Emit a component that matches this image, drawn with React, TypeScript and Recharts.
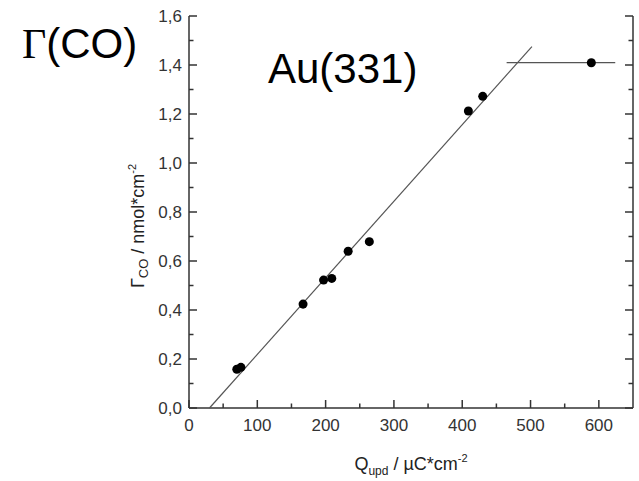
import { ScatterChart, Scatter, XAxis, YAxis } from "recharts";

// Q_upd (µC/cm²) against Γ_CO (nmol/cm²)
const qUpd = [70, 76, 167, 197, 209, 233, 264, 409, 430, 589];
const gammaCO = [0.158, 0.166, 0.424, 0.522, 0.529, 0.64, 0.679, 1.212, 1.272, 1.409];

// linear fit and saturation level
const fitX = [30, 502];
const fitY = [0, 1.475];
const plateauX = [465, 624];
const plateauY = [1.41, 1.41];

const xTicks = [0, 50, 100, 150, 200, 250, 300, 350, 400, 450, 500, 550, 600];
const yTicks = [0, 0.1, 0.2, 0.3, 0.4, 0.5, 0.6, 0.7, 0.8, 0.9, 1.0, 1.1, 1.2, 1.3, 1.4, 1.5, 1.6];

const points = qUpd.map((q, i) => ({ x: q, y: gammaCO[i] }));
const fitLine = fitX.map((q, i) => ({ x: q, y: fitY[i] }));
const plateau = plateauX.map((q, i) => ({ x: q, y: plateauY[i] }));

const AXIS = "#333";
const FONT = "'Liberation Sans', Arial, sans-serif";

const isMajorY = (v: number) => Math.round(v * 10) % 2 === 0;

const BottomTick = (props: any) => {
  const { x, y, payload } = props;
  const v = payload.value as number;
  const major = v % 100 === 0;
  return (
    <g>
      <line x1={x} y1={y} x2={x} y2={y - (major ? 8 : 4.5)} stroke={AXIS} strokeWidth={1.5} />
      {major && (
        <text x={x} y={y + 23} textAnchor="middle" fontSize={17} fill={AXIS} fontFamily={FONT}>
          {v}
        </text>
      )}
    </g>
  );
};

const LeftTick = (props: any) => {
  const { x, y, payload } = props;
  const v = payload.value as number;
  const major = isMajorY(v);
  return (
    <g>
      <line x1={x} y1={y} x2={x + (major ? 8 : 4.5)} y2={y} stroke={AXIS} strokeWidth={1.5} />
      {major && (
        <text x={x - 7} y={y + 6} textAnchor="end" fontSize={17} fill={AXIS} fontFamily={FONT}>
          {v.toFixed(1).replace(".", ",")}
        </text>
      )}
    </g>
  );
};

const RightTick = (props: any) => {
  const { x, y, payload } = props;
  const major = isMajorY(payload.value);
  return <line x1={x} y1={y} x2={x - (major ? 8 : 4.5)} y2={y} stroke={AXIS} strokeWidth={1.5} />;
};

const XTitle = () => (
  <text x={411} y={470} textAnchor="middle" fontSize={18} fill="#222" fontFamily={FONT}>
    Q
    <tspan fontSize={12} dy={5}>upd</tspan>
    <tspan dy={-5}> / µC*cm</tspan>
    <tspan fontSize={11} dy={-8}>-2</tspan>
  </text>
);

const YTitle = () => (
  <text
    x={0}
    y={0}
    transform="translate(144 226) rotate(-90)"
    textAnchor="middle"
    fontSize={18}
    fill="#222"
    fontFamily={FONT}
  >
    Γ
    <tspan fontSize={13} dy={4}>CO</tspan>
    <tspan dy={-4}> / nmol*cm</tspan>
    <tspan fontSize={11} dy={-8}>-2</tspan>
  </text>
);

const noDot = () => <g />;

export default function App() {
  return (
    <div style={{ position: "absolute", left: 0, top: 0, width: 639, height: 481, background: "#fff" }}>
      <ScatterChart width={639} height={481} margin={{ top: 16, right: 5, bottom: 0, left: 0 }}>
        <XAxis
          type="number"
          dataKey="x"
          domain={[0, 650]}
          ticks={xTicks}
          interval={0}
          height={73}
          tickSize={0}
          tickMargin={0}
          tickLine={false}
          axisLine={{ stroke: AXIS, strokeWidth: 1.5 }}
          tick={<BottomTick />}
          label={<XTitle />}
        />
        <YAxis
          type="number"
          dataKey="y"
          domain={[0, 1.6]}
          ticks={yTicks}
          interval={0}
          width={189}
          tickSize={0}
          tickMargin={0}
          tickLine={false}
          axisLine={{ stroke: AXIS, strokeWidth: 1.5 }}
          tick={<LeftTick />}
          label={<YTitle />}
        />
        <YAxis
          yAxisId="r"
          orientation="right"
          type="number"
          dataKey="y"
          domain={[0, 1.6]}
          ticks={yTicks}
          interval={0}
          width={1}
          tickSize={0}
          tickMargin={0}
          tickLine={false}
          axisLine={{ stroke: AXIS, strokeWidth: 1.5 }}
          tick={<RightTick />}
        />
        <Scatter
          yAxisId="r"
          data={fitLine}
          line={{ stroke: "#555", strokeWidth: 1.2 }}
          shape={noDot}
          isAnimationActive={false}
        />
        <Scatter
          yAxisId="r"
          data={plateau}
          line={{ stroke: "#555", strokeWidth: 1.2 }}
          shape={noDot}
          isAnimationActive={false}
        />
        <Scatter data={points} fill="#000" isAnimationActive={false} />
      </ScatterChart>
      <div
        style={{
          position: "absolute",
          left: 22,
          top: 23,
          fontSize: 42,
          lineHeight: "42px",
          color: "#000",
          fontFamily: FONT,
          whiteSpace: "nowrap",
        }}
      >
        <span style={{ fontFamily: "'Liberation Serif', 'Times New Roman', serif" }}>Γ</span>(CO)
      </div>
      <div
        style={{
          position: "absolute",
          left: 268,
          top: 48,
          fontSize: 42,
          lineHeight: "42px",
          color: "#000",
          fontFamily: FONT,
          whiteSpace: "nowrap",
        }}
      >
        Au(331)
      </div>
    </div>
  );
}
